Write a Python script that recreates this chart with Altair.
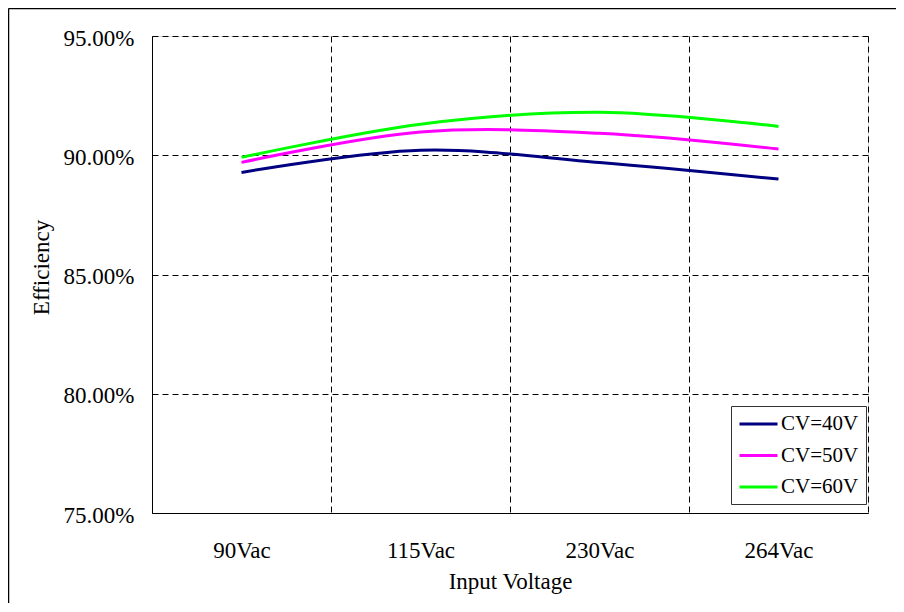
import altair as alt
import pandas as pd

categories = ["90Vac", "115Vac", "230Vac", "264Vac"]
series_names = ["CV=40V", "CV=50V", "CV=60V"]
cv40 = [89.28, 90.21, 89.70, 89.00]
cv50 = [89.70, 90.97, 90.92, 90.26]
cv60 = [89.91, 91.30, 91.80, 91.21]
colors = ["#000080", "#FF00FF", "#00FF00"]
y_ticks = [75, 80, 85, 90, 95]

rows = []
for name, vals in zip(series_names, [cv40, cv50, cv60]):
    for i, (c, v) in enumerate(zip(categories, vals)):
        rows.append({"series": name, "idx": i, "cat": c, "eff": v})
df = pd.DataFrame(rows)

FONT = "Liberation Serif"
FS = 23
n = len(categories)
x_vals = [k / 2 - 0.5 for k in range(2 * n + 1)]
cat_js = "[" + ",".join("'" + c + "'" for c in categories) + "]"
label_expr = "datum.value % 1 == 0 ? " + cat_js + "[datum.value] : ''"

x_axis = alt.Axis(
    values=x_vals,
    labelExpr=label_expr,
    grid=True,
    gridDash=[6, 4],
    gridColor="#000000",
    gridWidth=1,
    gridOpacity={"condition": {"test": "datum.value % 1 == 0", "value": 0}, "value": 1},
    ticks=False,
    domain=True,
    domainColor="#000000",
    domainWidth=1,
    labelFont=FONT,
    labelFontSize=FS,
    labelColor="#000000",
    labelPadding=26,
    labelOverlap=False,
    labelFlush=False,
    title="Input Voltage",
    titleFont=FONT,
    titleFontSize=FS,
    titleFontWeight="normal",
    titleColor="#000000",
    titlePadding=8,
)

y_axis = alt.Axis(
    values=y_ticks,
    labelExpr="format(datum.value, '.2f') + '%'",
    grid=True,
    gridDash=[6, 4],
    gridColor="#000000",
    gridWidth=1,
    ticks=False,
    domain=True,
    domainColor="#000000",
    domainWidth=1,
    labelFont=FONT,
    labelFontSize=FS,
    labelColor="#000000",
    labelPadding=18,
    labelOffset=2,
    title="Efficiency",
    titleFont=FONT,
    titleFontSize=FS,
    titleFontWeight="normal",
    titleColor="#000000",
    titlePadding=10,
    titleY=231,
)

lines = alt.Chart(df).mark_line(strokeWidth=3, interpolate="cardinal").encode(
    x=alt.X("idx:Q", scale=alt.Scale(domain=[-0.5, n - 0.5], nice=False, zero=False), axis=x_axis),
    y=alt.Y("eff:Q", scale=alt.Scale(domain=[75, 95], nice=False, zero=False), axis=y_axis),
    color=alt.Color(
        "series:N",
        scale=alt.Scale(domain=series_names, range=colors),
        legend=alt.Legend(
            title=None,
            orient="none",
            legendX=579,
            legendY=370,
            fillColor="#FFFFFF",
            strokeColor="#333333",
            padding=7,
            symbolType="M-1,0H3",
            symbolSize=361,
            symbolStrokeWidth=3,
            labelFont=FONT,
            labelFontSize=21,
            labelColor="#000000",
            labelOffset=21,
            rowPadding=10.5,
        ),
    ),
    detail="series:N",
)

border = pd.DataFrame({"a": [0]})
left_edge = alt.Chart(border).mark_rule(stroke="#000000", strokeWidth=1.5, clip=False).encode(
    x=alt.value(-143.5), y=alt.value(-27.5), y2=alt.value(700)
)
top_edge = alt.Chart(border).mark_rule(stroke="#000000", strokeWidth=1.5, clip=False).encode(
    x=alt.value(-143.5), x2=alt.value(760), y=alt.value(-27.5)
)

chart = alt.layer(left_edge, top_edge, lines).properties(
    width=716,
    height=477,
    autosize=alt.AutoSizeParams(type="none"),
    padding={"left": 144, "top": 28, "right": 28, "bottom": 90},
).configure_view(stroke=None).configure(background="#FFFFFF")

chart.save("out.html", embed_options={"renderer": "svg", "actions": False})
